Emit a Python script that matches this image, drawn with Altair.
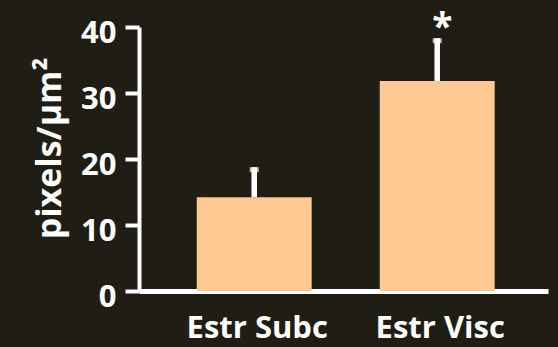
import altair as alt
import pandas as pd

# Group means and standard errors (pixels per square micron)
groups = ["Estr Subc", "Estr Visc"]
means = [14.2, 31.8]
sems = [4.55, 6.5]
significance = ["", "*"]

df = pd.DataFrame({
    "group": groups,
    "mean": means,
    "sem": sems,
    "sig": significance,
})
df["upper"] = df["mean"] + df["sem"]

BG = "#201D14"
BAR = "#FFC994"
FONT = "Open Sans"

x_enc = alt.X(
    "group:N",
    sort=groups,
    scale=alt.Scale(paddingInner=0.372, paddingOuter=0.3035, align=0.52),
    axis=alt.Axis(
        title=None,
        labelAngle=0,
        labelFont=FONT,
        labelFontWeight="bold",
        labelFontSize=31,
        labelColor="white",
        labelPadding=22,
        labelOffset=3,
        ticks=False,
        tickSize=0,
        domainColor="white",
        domainWidth=5,
        grid=False,
    ),
)

y_scale = alt.Scale(domain=[0, 40], nice=False, zero=True)

bars = alt.Chart(df).mark_bar(color=BAR).encode(
    x=x_enc,
    y=alt.Y(
        "mean:Q",
        scale=y_scale,
        axis=alt.Axis(
            title="pixels/µm²",
            titleFont=FONT,
            titleFontWeight="bold",
            titleFontSize=34,
            titleColor="white",
            titleAngle=-90,
            titleAlign="center",
            titleBaseline="alphabetic",
            titleX=-79,
            titleY=121,
            values=[0, 10, 20, 30, 40],
            labelFont=FONT,
            labelFontWeight="bold",
            labelFontSize=31,
            labelColor="white",
            labelPadding=9,
            labelOffset=6,
            tickColor="white",
            tickSize=14,
            tickWidth=4,
            domainColor="white",
            domainWidth=4,
            grid=False,
        ),
    ),
)

# Upward-only error bars with a small square cap
whiskers = alt.Chart(df).mark_rule(color="white", strokeWidth=5.5).encode(
    x=alt.X("group:N", sort=groups),
    y=alt.Y("mean:Q", scale=y_scale),
    y2="upper:Q",
)

caps = alt.Chart(df).mark_tick(
    color="white", orient="horizontal", thickness=5, size=9, yOffset=2.5
).encode(
    x=alt.X("group:N", sort=groups),
    y=alt.Y("upper:Q", scale=y_scale),
)

# Significance marker above the upper error bar
stars = alt.Chart(df).mark_text(
    color="white",
    font=FONT,
    fontWeight="bold",
    fontSize=37,
    baseline="alphabetic",
    align="center",
    dx=5,
    dy=2,
).encode(
    x=alt.X("group:N", sort=groups),
    y=alt.Y("upper:Q", scale=y_scale),
    text="sig:N",
)

chart = (
    alt.layer(bars, whiskers, caps, stars)
    .properties(
        width=409,
        height=264,
        autosize=alt.AutoSizeParams(type="none"),
        padding={"left": 139, "top": 27, "right": 10, "bottom": 56},
        background=BG,
    )
    .configure_view(stroke=None)
)

chart.save("out.html", embed_options={"renderer": "svg", "actions": False})
